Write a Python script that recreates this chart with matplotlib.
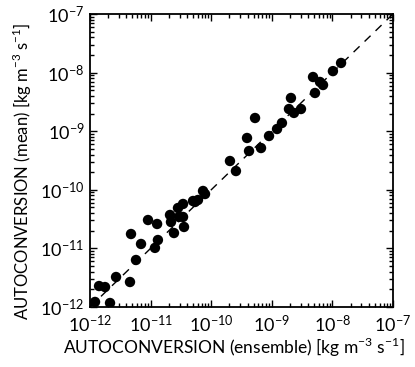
import matplotlib

matplotlib.use("Agg")
import matplotlib.pyplot as plt
import numpy as np
from matplotlib.ticker import LogLocator, LogFormatterMathtext, NullFormatter

plt.rcParams["font.family"] = ["Lato", "DejaVu Sans"]
plt.rcParams["mathtext.fontset"] = "custom"
plt.rcParams["mathtext.rm"] = "Lato"

# autoconversion rates [kg m-3 s-1]
ensemble = np.array([
    1.21e-12, 2.14e-12, 1.41e-12, 1.77e-12, 2.69e-12, 4.57e-12, 5.74e-12,
    4.75e-12, 6.95e-12, 9.06e-12, 1.18e-11, 1.32e-11, 1.28e-11, 2.09e-11,
    2.17e-11, 2.43e-11, 2.83e-11, 3.43e-11, 2.94e-11, 3.43e-11, 3.56e-11,
    5.41e-11, 6.05e-11, 5.01e-11, 7.33e-11, 7.91e-11, 2.04e-10, 2.56e-10,
    3.90e-10, 4.21e-10, 6.64e-10, 5.29e-10, 9.00e-10, 1.22e-9, 1.47e-9,
    2.07e-9, 1.92e-9, 2.32e-9, 3.03e-9, 4.79e-9, 6.24e-9, 7.00e-9,
    5.16e-9, 1.02e-8, 1.39e-8,
])
mean = np.array([
    1.22e-12, 1.17e-12, 2.28e-12, 2.19e-12, 3.25e-12, 2.67e-12, 6.34e-12,
    1.76e-11, 1.19e-11, 3.05e-11, 1.02e-11, 1.39e-11, 2.61e-11, 3.72e-11,
    2.82e-11, 1.83e-11, 4.89e-11, 5.73e-11, 3.44e-11, 3.44e-11, 2.32e-11,
    6.20e-11, 6.70e-11, 6.44e-11, 9.55e-11, 8.47e-11, 3.10e-10, 2.09e-10,
    7.66e-10, 4.59e-10, 5.16e-10, 1.68e-9, 8.28e-10, 1.09e-9, 1.38e-9,
    3.69e-9, 2.39e-9, 2.05e-9, 2.39e-9, 8.41e-9, 6.92e-9, 6.14e-9,
    4.49e-9, 1.06e-8, 1.46e-8,
])
lims = [1e-12, 1e-7]

fig = plt.figure(figsize=(4.15, 3.67), dpi=100)
ax = fig.add_axes([90 / 415, 60 / 367, 303 / 415, 293 / 367])

ax.plot(lims, lims, "--", color="black", linewidth=1.0, dashes=(6, 5))
ax.scatter(ensemble, mean, s=56, color="black", edgecolor="none", zorder=3)

ax.set_xscale("log")
ax.set_yscale("log")
ax.set_xlim(lims)
ax.set_ylim(lims)

for axis in (ax.xaxis, ax.yaxis):
    axis.set_major_locator(LogLocator(base=10, numticks=10))
    axis.set_minor_locator(LogLocator(base=10, subs=np.arange(2, 10), numticks=10))
    axis.set_major_formatter(LogFormatterMathtext())
    axis.set_minor_formatter(NullFormatter())

ax.tick_params(which="both", direction="in", top=True, right=True,
               labelsize=13, width=1.0)
ax.tick_params(which="major", length=5)
ax.tick_params(axis="x", which="major", pad=5)
ax.tick_params(axis="y", which="major", pad=4)
ax.tick_params(which="minor", length=3)
for sp in ax.spines.values():
    sp.set_linewidth(1.3)

ax.set_xlabel(r"AUTOCONVERSION (ensemble) [kg m$^{-3}$ s$^{-1}$]",
              fontsize=12.5)
ax.set_ylabel(r"AUTOCONVERSION (mean) [kg m$^{-3}$ s$^{-1}$]",
              fontsize=12)
ax.xaxis.set_label_coords(0.475, -0.10)
ax.yaxis.set_label_coords(-0.185, 0.465)

fig.savefig("out.png", dpi=100)
